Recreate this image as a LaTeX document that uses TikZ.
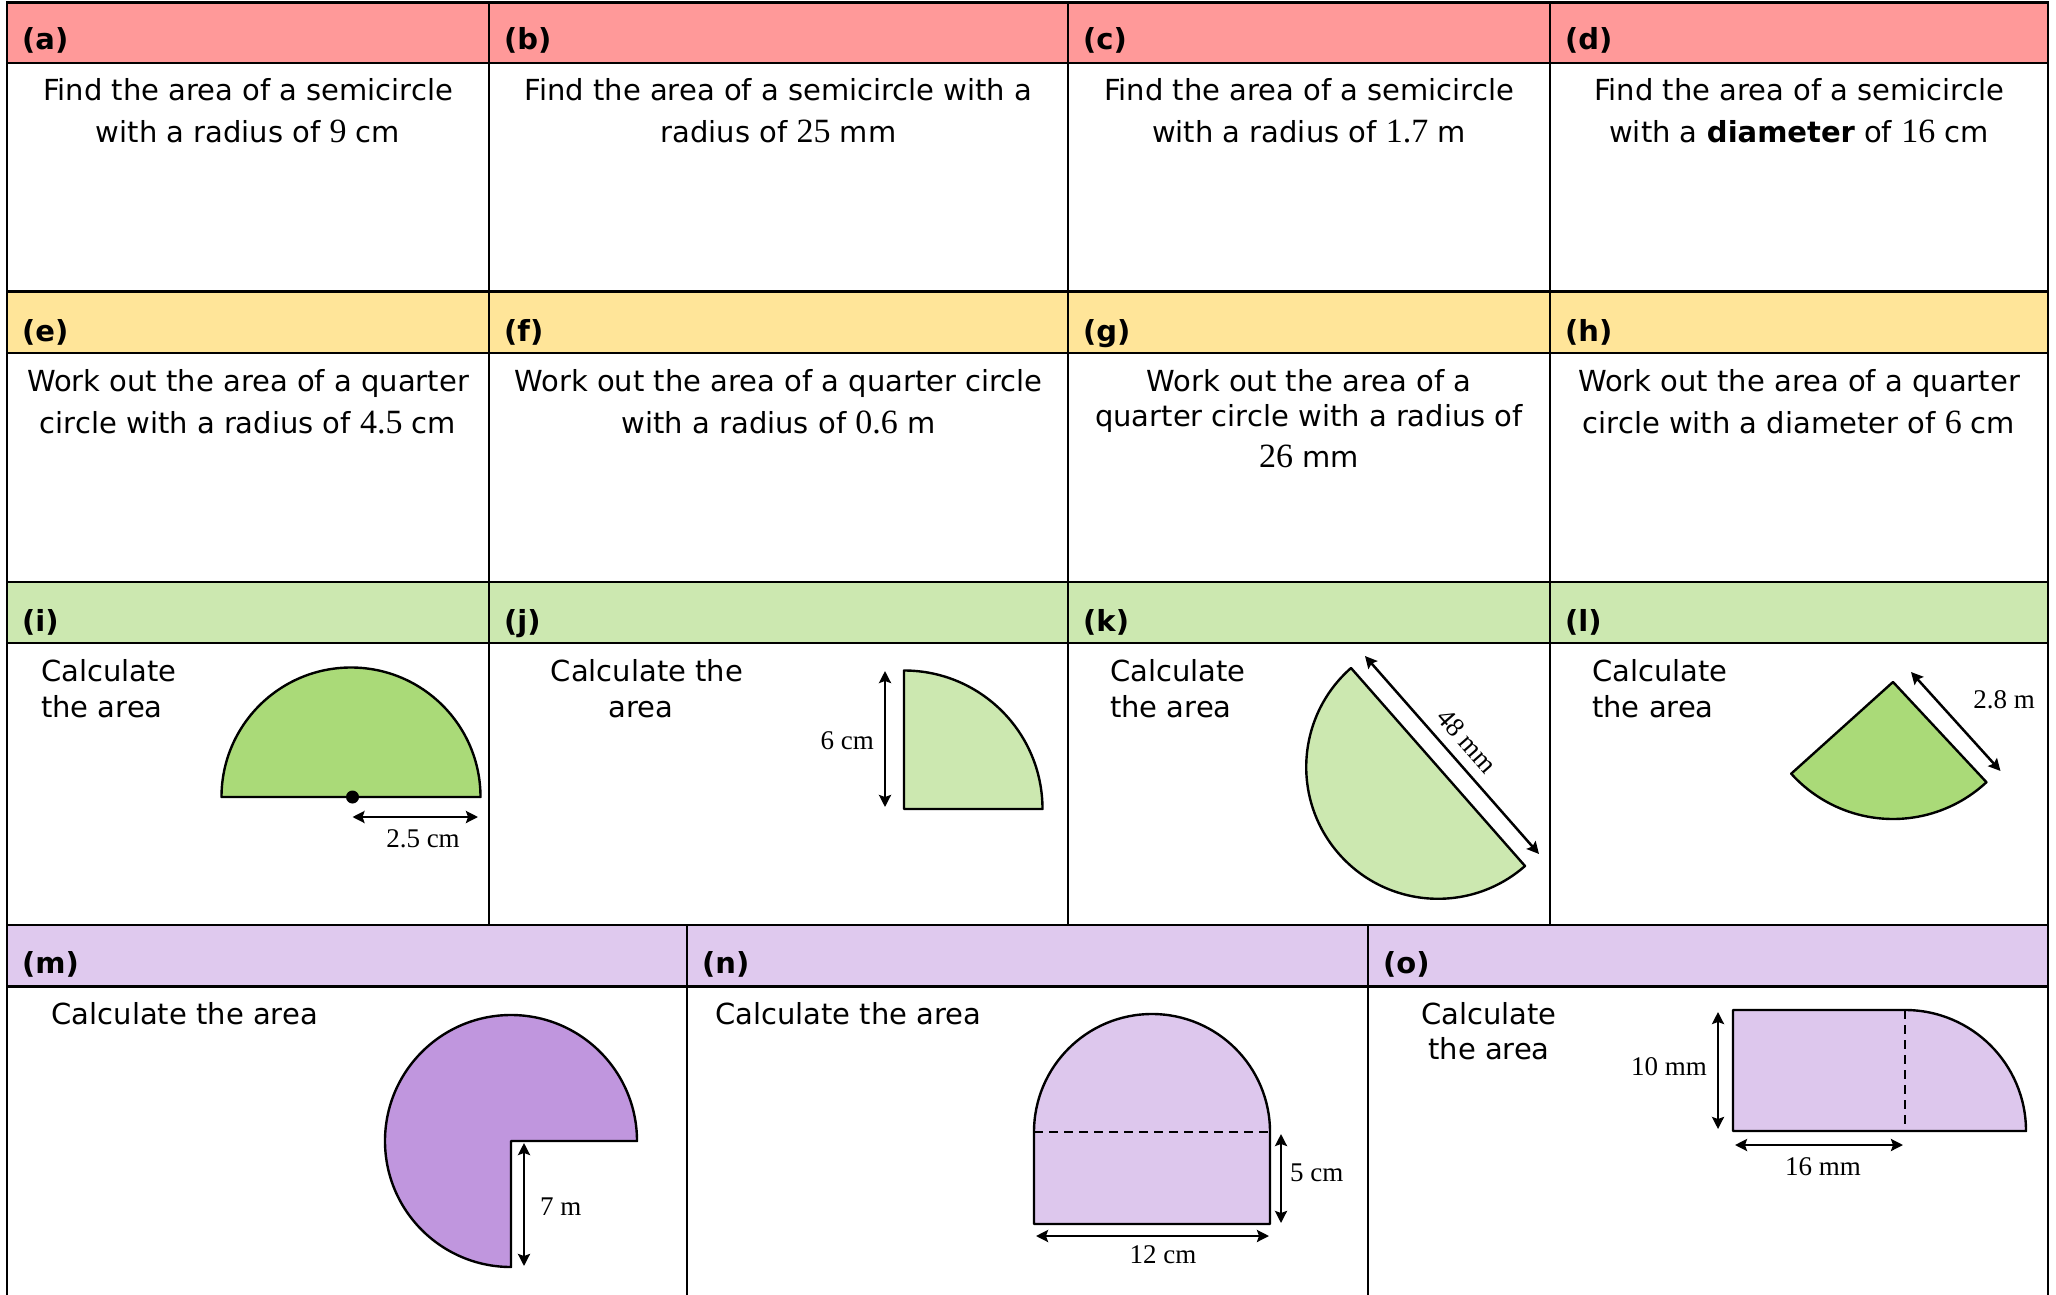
\documentclass[tikz,border=0pt]{standalone}
\usepackage{fontspec}
\setmainfont{DejaVu Sans}
\newfontfamily\numfont{Liberation Serif}
\usetikzlibrary{arrows.meta}
\definecolor{hpink}{RGB}{255,153,153}
\definecolor{hyellow}{RGB}{255,229,153}
\definecolor{hgreen}{RGB}{204,232,176}
\definecolor{hpurple}{RGB}{223,201,238}
\definecolor{gbright}{RGB}{170,218,120}
\definecolor{glight}{RGB}{204,232,176}
\definecolor{pstrong}{RGB}{192,150,222}
\definecolor{plight}{RGB}{221,199,237}
\newcommand\nm[1]{{\numfont\fontsize{34pt}{34pt}\selectfont #1}}
\tikzset{
  bodytext/.style={font=\fontsize{29pt}{35pt}\selectfont, inner sep=0pt, anchor=base},
  bodyleft/.style={bodytext, anchor=base west},
  hdrlabel/.style={font=\fontsize{29pt}{35pt}\selectfont\bfseries, inner sep=0pt, anchor=base west},
  dimlabel/.style={font=\numfont\fontsize{27pt}{30pt}\selectfont, inner sep=0pt},
  figshape/.style={draw=black, line width=2.4pt, line join=round},
  dimarrow/.style={line width=2.5pt, {Stealth[length=12pt,width=12pt,inset=2pt]}-{Stealth[length=12pt,width=12pt,inset=2pt]}},
  rowline/.style={line width=2.8pt},
  hdline/.style={line width=2.2pt},
  colline/.style={line width=2pt},
}
\begin{document}
\begin{tikzpicture}[x=1pt,y=-1pt]
\useasboundingbox (0,0) rectangle (2056,1295);
% header fills
\fill[hpink]   (7,2.5) rectangle (2048,63);
\fill[hyellow] (7,291.5) rectangle (2048,353);
\fill[hgreen]  (7,582) rectangle (2048,643);
\fill[hpurple] (7,925) rectangle (2048,986.5);
% vertical lines
\draw[colline] (7,1.5) -- (7,1300);
\draw[colline] (2048,1.5) -- (2048,1300);
\draw[colline] (489,2.5) -- (489,925);
\draw[colline] (1068,2.5) -- (1068,925);
\draw[colline] (1550,2.5) -- (1550,925);
\draw[colline] (687,925) -- (687,1300);
\draw[colline] (1368,925) -- (1368,1300);
% horizontal lines
\draw[hdline] (6,2.5) -- (2049,2.5);
\draw[rowline] (6,291.5) -- (2049,291.5);
\draw[rowline] (6,582) -- (2049,582);
\draw[rowline] (6,925) -- (2049,925);
\draw[hdline] (6,63) -- (2049,63);
\draw[hdline] (6,353) -- (2049,353);
\draw[hdline] (6,643) -- (2049,643);
\draw[hdline] (6,986.5) -- (2049,986.5);

% header labels
\node[hdrlabel] (la) at (22,50) {(a)};
\node[hdrlabel] (lb) at (504,50) {(b)};
\node[hdrlabel] (lc) at (1083,50) {(c)};
\node[hdrlabel] (ld) at (1565,50) {(d)};
\node[hdrlabel] (le) at (22,341) {(e)};
\node[hdrlabel] (lf) at (504,341) {(f)};
\node[hdrlabel] (lg) at (1083,341) {(g)};
\node[hdrlabel] (lh) at (1565,341) {(h)};
\node[hdrlabel] (li) at (22,631) {(i)};
\node[hdrlabel] (lj) at (504,631) {(j)};
\node[hdrlabel] (lk) at (1083,631) {(k)};
\node[hdrlabel] (ll) at (1565,631) {(l)};
\node[hdrlabel] (lm) at (22,973) {(m)};
\node[hdrlabel] (ln) at (702,973) {(n)};
\node[hdrlabel] (lo) at (1383,973) {(o)};

% row 1 texts
\node[bodytext] (ta1) at (248,101) {Find the area of a semicircle};
\node[bodytext] (ta2) at (248,142.7) {with a radius of \nm{9} cm};
\node[bodytext] (tb1) at (778.5,101) {Find the area of a semicircle with a};
\node[bodytext] (tb2) at (778.5,142.7) {radius of \nm{25} mm};
\node[bodytext] (tc1) at (1309,101) {Find the area of a semicircle};
\node[bodytext] (tc2) at (1309,142.7) {with a radius of \nm{1.7} m};
\node[bodytext] (td1) at (1799,101) {Find the area of a semicircle};
\node[bodytext] (td2) at (1799,142.7) {with a \textbf{diameter} of \nm{16} cm};

% row 2 texts
\node[bodytext] (te1) at (248,391) {Work out the area of a quarter};
\node[bodytext] (te2) at (248,433) {circle with a radius of \nm{4.5} cm};
\node[bodytext] (tf1) at (778.5,391) {Work out the area of a quarter circle};
\node[bodytext] (tf2) at (778.5,433) {with a radius of \nm{0.6} m};
\node[bodytext] (tg1) at (1309,391.5) {Work out the area of a};
\node[bodytext] (tg2) at (1309,426.7) {quarter circle with a radius of};
\node[bodytext] (tg3) at (1309,467.7) {\nm{26} mm};
\node[bodytext] (th1) at (1799,391) {Work out the area of a quarter};
\node[bodytext] (th2) at (1799,433) {circle with a diameter of \nm{6} cm};

% row 3 texts
\node[bodyleft] (ti1) at (41,681) {Calculate};
\node[bodyleft] (ti2) at (41,717) {the area};
\node[bodytext] (tj1) at (647,681) {Calculate the};
\node[bodytext] (tj2) at (641,717) {area};
\node[bodyleft] (tk1) at (1110,681) {Calculate};
\node[bodyleft] (tk2) at (1110,717) {the area};
\node[bodyleft] (tl1) at (1592,681) {Calculate};
\node[bodyleft] (tl2) at (1592,717) {the area};

% row 4 texts
\node[bodyleft] (tm1) at (51.5,1024) {Calculate the area};
\node[bodyleft] (tn1) at (715,1024) {Calculate the area};
\node[bodytext] (to1) at (1489,1024) {Calculate};
\node[bodytext] (to2) at (1489,1059) {the area};

% (i) semicircle
\draw[figshape, fill=gbright] (221.5,797) arc[start angle=180, end angle=360, radius=129.5] -- cycle;
\fill (352.5,797) circle[radius=6.5];
\coordinate (i1) at (352.5,817);
\coordinate (i2) at (478,817);
\draw[dimarrow] (i1) -- (i2);
\node[dimlabel, anchor=base] (di) at (423,847) {2.5 cm};

% (j) quarter circle
\draw[figshape, fill=glight] (904,809) -- (904,670.5) arc[start angle=270, end angle=360, radius=138.5] -- cycle;
\coordinate (j1) at (885,671);
\coordinate (j2) at (885,807);
\draw[dimarrow] (j1) -- (j2);
\node[dimlabel, anchor=base east] (dj) at (874,749) {6 cm};

% (k) tilted semicircle
\draw[figshape, fill=glight] (1351,668) -- (1525,866) arc[start angle=48.7, end angle=228.7, radius=131.8] -- cycle;
\coordinate (k1) at (1365,656);
\coordinate (k2) at (1539,854);
\draw[dimarrow] (k1) -- (k2);
\node[dimlabel, rotate=-48.7] (dk) at (1467,741) {48 mm};

% (l) sector
\draw[figshape, fill=gbright] (1893,682) -- +(47:137) arc[start angle=47, end angle=138, radius=137] -- cycle;
\coordinate (l1) at (1911,672);
\coordinate (l2) at (2000.5,771);
\draw[dimarrow] (l1) -- (l2);
\node[dimlabel, anchor=base] (dl) at (2004,708) {2.8 m};

% (m) three-quarter circle
\draw[figshape, fill=pstrong] (511,1141) -- (511,1267) arc[start angle=90, end angle=360, radius=126] -- cycle;
\coordinate (m1) at (524,1143);
\coordinate (m2) at (524,1266);
\draw[dimarrow] (m1) -- (m2);
\node[dimlabel, anchor=base west] (dm) at (540,1215) {7 m};

% (n) rectangle with semicircle
\draw[figshape, fill=plight] (1034,1224) -- (1034,1132) arc[start angle=180, end angle=360, radius=118] -- (1270,1224) -- cycle;
\draw[line width=2.2pt, dash pattern=on 9pt off 6pt] (1034,1132) -- (1270,1132);
\coordinate (n1) at (1281,1134);
\coordinate (n2) at (1281,1223);
\draw[dimarrow] (n1) -- (n2);
\node[dimlabel, anchor=base west] (dn1) at (1290,1181) {5 cm};
\coordinate (n3) at (1036,1236);
\coordinate (n4) at (1269,1236);
\draw[dimarrow] (n3) -- (n4);
\node[dimlabel, anchor=base] (dn2) at (1163,1263) {12 cm};

% (o) rectangle with quarter circle
\draw[figshape, fill=plight] (1733,1131) -- (1733,1010) -- (1905,1010) arc[start angle=270, end angle=360, radius=121] -- cycle;
\draw[line width=2.2pt, dash pattern=on 9pt off 6pt] (1905,1010) -- (1905,1131);
\coordinate (o1) at (1718,1012);
\coordinate (o2) at (1718,1129);
\draw[dimarrow] (o1) -- (o2);
\node[dimlabel, anchor=base east] (do1) at (1707,1075) {10 mm};
\coordinate (o3) at (1735,1145);
\coordinate (o4) at (1903,1145);
\draw[dimarrow] (o3) -- (o4);
\node[dimlabel, anchor=base] (do2) at (1823,1175) {16 mm};
\end{tikzpicture}
\end{document}
